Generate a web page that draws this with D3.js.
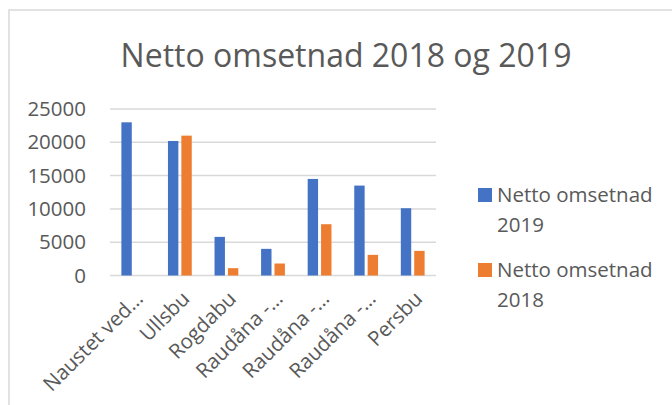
<!DOCTYPE html>
<html>
<head>
<meta charset="utf-8">
<script src="https://cdn.jsdelivr.net/npm/d3@7"></script>
<style>
  body { margin: 0; background: #fff; }
  text { font-family: "Open Sans", "Noto Sans", sans-serif; fill: #595959; }
</style>
</head>
<body>
<svg id="chart" width="672" height="405"></svg>
<script>
// Data
const categories = ['Naustet ved…', 'Ullsbu', 'Rogdabu', 'Raudåna -…', 'Raudåna -…', 'Raudåna -…', 'Persbu'];
const values2019 = [23000, 20200, 5800, 4000, 14500, 13500, 10100];
const values2018 = [null, 21000, 1100, 1800, 7700, 3100, 3700];
const seriesNames = ['Netto omsetnad 2019', 'Netto omsetnad 2018'];
const seriesColors = ['#4472C4', '#ED7D31'];
const yTicks = [0, 5000, 10000, 15000, 20000, 25000];

const svg = d3.select('#chart');

// chart area border
svg.append('rect')
  .attr('x', 9).attr('y', 10)
  .attr('width', 700).attr('height', 430)
  .attr('fill', '#fff')
  .attr('stroke', '#d9d9d9')
  .attr('stroke-width', 1.5);

// title
svg.append('text')
  .attr('x', 346)
  .attr('y', 67)
  .attr('text-anchor', 'middle')
  .style('font-size', '32px')
  .text('Netto omsetnad 2018 og 2019');

const plot = { left: 110, right: 436, top: 109, bottom: 275.5 };

const x0 = d3.scaleBand()
  .domain(d3.range(categories.length))
  .range([plot.left, plot.right])
  .padding(0);

const x1 = d3.scaleBand()
  .domain(d3.range(seriesNames.length))
  .range([0, x0.bandwidth()])
  .paddingInner(0.224)
  .paddingOuter(0.85);

const y = d3.scaleLinear()
  .domain([0, 25000])
  .range([plot.bottom, plot.top]);

// gridlines
svg.append('g')
  .selectAll('line')
  .data(yTicks)
  .join('line')
  .attr('x1', plot.left).attr('x2', plot.right)
  .attr('y1', d => y(d)).attr('y2', d => y(d))
  .attr('stroke', '#d9d9d9')
  .attr('stroke-width', 1.5);

// y labels
svg.append('g')
  .selectAll('text')
  .data(yTicks)
  .join('text')
  .attr('x', 86)
  .attr('y', d => y(d))
  .attr('dy', '0.35em')
  .attr('text-anchor', 'end')
  .style('font-size', '20.5px')
  .text(d => d);

// bars
const rows = categories.map((c, i) => ({ i, vals: [values2019[i], values2018[i]] }));

const groups = svg.append('g')
  .selectAll('g')
  .data(rows)
  .join('g')
  .attr('transform', d => `translate(${x0(d.i)},0)`);

groups.selectAll('rect')
  .data(d => d.vals.map((v, s) => ({ s, v })).filter(e => e.v != null))
  .join('rect')
  .attr('x', d => x1(d.s))
  .attr('width', x1.bandwidth())
  .attr('y', d => y(d.v))
  .attr('height', d => y(0) - y(d.v))
  .attr('fill', d => seriesColors[d.s]);

// x labels, rotated
svg.append('g')
  .selectAll('text')
  .data(categories)
  .join('text')
  .attr('transform', (d, i) => `translate(${x0(i) + x0.bandwidth() / 2 + 11},${300}) rotate(-45)`)
  .attr('text-anchor', 'end')
  .style('font-size', '20.5px')
  .text(d => d);

// legend
const legend = svg.append('g')
  .selectAll('g')
  .data(seriesNames)
  .join('g')
  .attr('transform', (d, i) => `translate(478,${188 + i * 75})`);

legend.append('rect')
  .attr('width', 14).attr('height', 14)
  .attr('fill', (d, i) => seriesColors[i]);

legend.append('text')
  .attr('x', 19)
  .attr('y', 14)
  .style('font-size', '20.5px')
  .selectAll('tspan')
  .data(d => [d.slice(0, 14), d.slice(15)])
  .join('tspan')
  .attr('x', 19)
  .attr('dy', (d, i) => i === 0 ? 0 : 29.5)
  .text(d => d);
</script>
</body>
</html>
